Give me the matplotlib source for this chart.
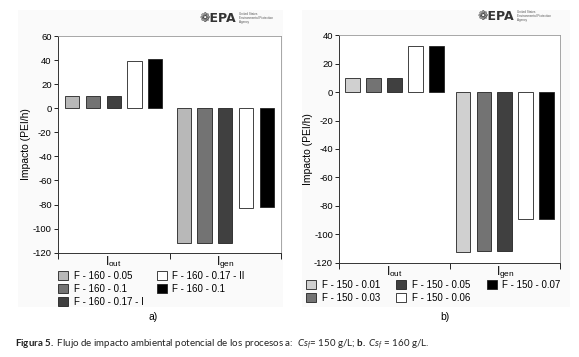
import numpy as np
import matplotlib
matplotlib.use("Agg")
import matplotlib.pyplot as plt
from matplotlib.patches import Rectangle

# datos
categorias = ["out", "gen"]
series_a = ["F - 160 - 0.05", "F - 160 - 0.1", "F - 160 - 0.17 - I",
            "F - 160 - 0.17 - II", "F - 160 - 0.1"]
iout_a = [9.9, 9.9, 9.9, 39.4, 40.5]
igen_a = [-112.3, -112.3, -112.3, -83.2, -82.1]

series_b = ["F - 150 - 0.01", "F - 150 - 0.03", "F - 150 - 0.05",
            "F - 150 - 0.06", "F - 150 - 0.07"]
iout_b = [10.1, 10.1, 10.1, 32.6, 32.6]
igen_b = [-112.3, -112.0, -112.0, -89.4, -89.4]

colores_a = ["#b8b8b8", "#737373", "#404040", "white", "black"]
colores_b = ["#d0d0d0", "#737373", "#404040", "white", "black"]

plt.rcParams["font.family"] = ["Liberation Sans", "DejaVu Sans"]
plt.rcParams["axes.unicode_minus"] = False
plt.rcParams["mathtext.fontset"] = "custom"
plt.rcParams["mathtext.rm"] = "Liberation Sans"
plt.rcParams["mathtext.it"] = "Lato:italic"
plt.rcParams["mathtext.bf"] = "Lato:bold"

W, H = 579, 357
fig = plt.figure(figsize=(W / 100, H / 100), dpi=100)


def fx(px):
    return px / W


def fy(py):
    return 1 - py / H


# fondo muy claro de cada panel
fig.patches.append(Rectangle((fx(18), fy(307)), fx(265), fy(10) - fy(307),
                             transform=fig.transFigure, facecolor="#fafafa",
                             edgecolor="none", zorder=-5))
fig.patches.append(Rectangle((fx(302), fy(307)), fx(268), fy(10) - fy(307),
                             transform=fig.transFigure, facecolor="#fafafa",
                             edgecolor="none", zorder=-5))


def panel(rect, out_vals, gen_vals, nombres, colores, ylim, paso, ancho, ncol, leg_anchor, colsp):
    ax = fig.add_axes(rect)
    ax.set_facecolor("white")
    x = np.arange(len(categorias))
    for i in range(len(nombres)):
        off = (i - 2) * paso
        ax.bar(x + off, [out_vals[i], gen_vals[i]], width=ancho, color=colores[i],
               edgecolor="#222222", linewidth=0.6, label=nombres[i])
    ax.set_xlim(-0.5, 1.5)
    ax.set_ylim(*ylim)
    ax.set_yticks(np.arange(ylim[0], ylim[1] + 1, 20))
    ax.tick_params(axis="y", labelsize=6.8, length=3, width=0.6, pad=1.5)
    ax.set_xticks([-0.5, 0.5, 1.5])
    ax.set_xticklabels([])
    ax.tick_params(axis="x", length=4, width=0.6, direction="out")
    ax.set_xticks(x, minor=True)
    ax.set_xticklabels([r"I$_{\rm out}$", r"I$_{\rm gen}$"], minor=True, fontsize=8.5)
    ax.tick_params(axis="x", which="minor", length=0, pad=1)
    for s in ["left", "bottom"]:
        ax.spines[s].set_color("#333333")
        ax.spines[s].set_linewidth(0.7)
    for s in ["top", "right"]:
        ax.spines[s].set_color("#999999")
        ax.spines[s].set_linewidth(0.6)
    ax.set_ylabel("Impacto (PEI/h)", fontsize=7.5, labelpad=1)
    ax.legend(loc="upper left", bbox_to_anchor=leg_anchor, bbox_transform=fig.transFigure,
              ncol=ncol, fontsize=7, frameon=False, handlelength=1.0, handleheight=1.0,
              handletextpad=0.6, columnspacing=colsp, labelspacing=0.3, borderpad=0,
              borderaxespad=0)
    return ax


ax1 = panel([fx(58), fy(252.7), fx(223), fy(36) - fy(252.7)], iout_a, igen_a, series_a,
            colores_a, (-120, 60), 0.186, 0.126, 2, (fx(58), fy(271)), 1.4)
ax2 = panel([fx(339.3), fy(262.7), fx(220.7), fy(35.3) - fy(262.7)], iout_b, igen_b, series_b,
            colores_b, (-120, 40), 0.19, 0.133, 3, (fx(306), fy(280)), 1.7)

# logo EPA como texto
for x0, y0 in [(199, 18), (477, 16)]:
    fig.text(fx(x0), fy(y0), "\u2741EPA", fontsize=9, fontweight="bold", color="#333333",
             va="center", ha="left", family=["DejaVu Sans"])
    fig.text(fx(x0 + 40), fy(y0), "United States\nEnvironmental Protection\nAgency",
             fontsize=2.2, color="#555555", va="center", ha="left", linespacing=1.1)

fig.text(fx(153), fy(317), "a)", fontsize=7.5, ha="center", va="center")
fig.text(fx(445), fy(317), "b)", fontsize=7.5, ha="center", va="center")

fig.text(fx(15), fy(344),
         r"$\mathbf{Figura\ 5.}$ Flujo de impacto ambiental potencial de los procesos a:  "
         r"$\mathit{Cs}_{f}$= 150 g/L; $\mathbf{b.}$ $\mathit{Cs}_{f}$ = 160 g/L.",
         fontsize=7, family=["Lato", "DejaVu Sans"], ha="left", va="center", color="#222222")

fig.savefig("out.png", dpi=100)
